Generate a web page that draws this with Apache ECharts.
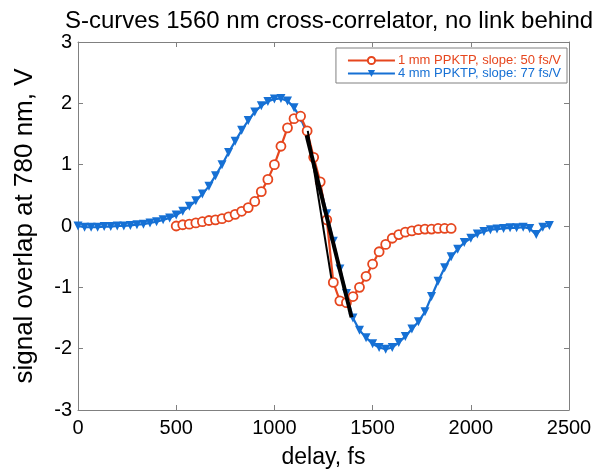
<!DOCTYPE html>
<html><head><meta charset="utf-8">
<script src="https://cdn.jsdelivr.net/npm/echarts@6/dist/echarts.min.js"></script>
<style>html,body{margin:0;padding:0;background:#fff}#c{width:600px;height:474px}</style>
</head><body><div id="c"></div>
<script>
// delays (fs) and signals (V)
const blueX = [0,33.3,66.7,100,133.3,166.7,200,233.3,266.7,300,333.3,366.7,400,433.3,466.7,500,533.3,566.7,600,633.3,666.7,700,733.3,766.7,800,833.3,866.7,900,933.3,966.7,1000,1033.3,1066.7,1100,1133.3,1166.7,1200,1233.3,1266.7,1300,1333.3,1366.7,1400,1433.3,1466.7,1500,1533.3,1566.7,1600,1633.3,1666.7,1700,1733.3,1766.7,1800,1833.3,1866.7,1900,1933.3,1966.7,2000,2033.3,2066.7,2100,2133.3,2166.7,2200,2233.3,2266.7,2300,2333.3,2366.7,2400];
const blueY = [0,-0.02,-0.02,-0.02,-0.01,-0.01,0,0,0.01,0.02,0.03,0.05,0.07,0.1,0.13,0.18,0.24,0.32,0.41,0.52,0.65,0.82,1.0,1.2,1.38,1.56,1.72,1.86,1.96,2.03,2.07,2.08,2.04,1.93,1.76,1.5,1.05,0.65,0.2,-0.25,-0.7,-1.1,-1.5,-1.7,-1.82,-1.92,-1.98,-2.01,-1.98,-1.9,-1.8,-1.68,-1.56,-1.4,-1.15,-0.9,-0.68,-0.5,-0.38,-0.27,-0.2,-0.13,-0.09,-0.06,-0.05,-0.04,-0.03,-0.03,-0.02,-0.04,-0.14,-0.02,0.01];
const redX = [500,533.3,566.7,600,633.3,666.7,700,733.3,766.7,800,833.3,866.7,900,933.3,966.7,1000,1033.3,1066.7,1100,1133.3,1166.7,1200,1233.3,1266.7,1300,1333.3,1366.7,1400,1433.3,1466.7,1500,1533.3,1566.7,1600,1633.3,1666.7,1700,1733.3,1766.7,1800,1833.3,1866.7,1900];
const redY = [0,0.02,0.03,0.05,0.07,0.09,0.1,0.12,0.15,0.19,0.24,0.3,0.4,0.56,0.76,1.0,1.3,1.6,1.75,1.79,1.55,1.12,0.72,0.1,-0.92,-1.22,-1.25,-1.15,-1.0,-0.82,-0.62,-0.42,-0.3,-0.2,-0.14,-0.1,-0.08,-0.06,-0.05,-0.05,-0.04,-0.04,-0.04];
const fitBlueX = [1164,1393], fitBlueY = [1.48,-1.49];
const fitRedX = [1170,1290], fitRedY = [1.55,-0.85];
const xTicks = [0,500,1000,1500,2000,2500];
const yTicks = [-3,-2,-1,0,1,2,3];
const names = ['1 mm PPKTP, slope: 50 fs/V','4 mm PPKTP, slope: 77 fs/V'];

const RED = '#E6461E', BLUE = '#1670D4', AX = '#808080';
const FONT = "'Liberation Sans', Arial, sans-serif";
const zip = (a,b) => a.map((v,i)=>[v,b[i]]);
const plain = v => String(v);

const chart = echarts.init(document.getElementById('c'), null, {renderer:'canvas'});
const axBase = () => ({axisLine:{show:true,onZero:false,lineStyle:{color:AX,width:1}},
  axisTick:{show:true,inside:true,length:5,lineStyle:{color:AX}},
  splitLine:{show:false}});
chart.setOption({
  animation:false,
  backgroundColor:'#fff',
  title:{text:'S-curves 1560 nm cross-correlator, no link behind',left:324,textAlign:'center',top:4,
    textStyle:{fontFamily:FONT,fontSize:24,fontWeight:'normal',color:'#000'}},
  grid:{left:78,right:31,top:42,bottom:57},
  legend:{right:33,top:48,orient:'vertical',itemWidth:47,itemHeight:9,itemGap:0,
    padding:[6,6,3,11],borderColor:AX,borderWidth:1,backgroundColor:'#fff',
    data:[{name:names[0],textStyle:{color:RED}},{name:names[1],textStyle:{color:BLUE}}],
    textStyle:{fontFamily:FONT,fontSize:13,lineHeight:12,padding:[0,0,0,-2]}},
  xAxis:[Object.assign({type:'value',min:xTicks[0],max:xTicks[xTicks.length-1],interval:500,
    name:'delay, fs',nameLocation:'middle',nameGap:36,
    nameTextStyle:{fontFamily:FONT,fontSize:23,color:'#000'},
    axisLabel:{fontFamily:FONT,fontSize:20,color:'#000',margin:8,formatter:plain}},axBase()),
    Object.assign({type:'value',position:'top',min:0,max:2500,interval:500,axisLabel:{show:false}},axBase())],
  yAxis:[Object.assign({type:'value',min:yTicks[0],max:yTicks[yTicks.length-1],interval:1,
    name:'signal overlap at 780 nm, V',nameLocation:'middle',nameGap:40,
    nameTextStyle:{fontFamily:FONT,fontSize:26,color:'#000'},
    axisLabel:{fontFamily:FONT,fontSize:20,color:'#000',margin:6,formatter:plain}},axBase()),
    Object.assign({type:'value',position:'right',min:-3,max:3,interval:1,axisLabel:{show:false}},axBase())],
  series:[
    {name:names[1],type:'line',data:zip(blueX,blueY),symbol:'triangle',symbolRotate:180,symbolSize:9,
      itemStyle:{color:BLUE},lineStyle:{color:BLUE,width:2.2},z:2},
    {name:names[0],type:'line',data:zip(redX,redY),symbol:'circle',symbolSize:9,
      itemStyle:{color:'#fff',borderColor:RED,borderWidth:1.8},lineStyle:{color:RED,width:2.2},z:3},
    {name:'fitRed',type:'line',data:zip(fitRedX,fitRedY),symbol:'none',lineStyle:{color:'#000',width:2},z:4},
    {name:'fitBlue',type:'line',data:zip(fitBlueX,fitBlueY),symbol:'none',lineStyle:{color:'#000',width:4},z:4}
  ]
});
</script></body></html>
